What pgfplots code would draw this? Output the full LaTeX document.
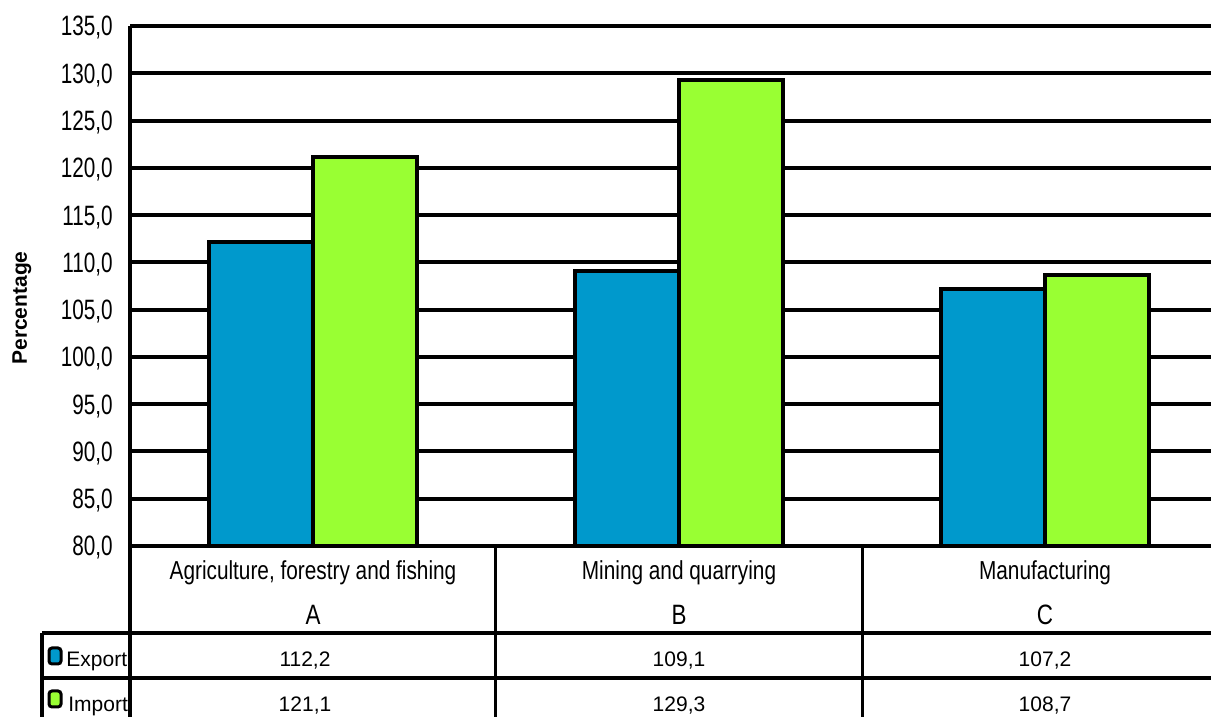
\documentclass[border=0pt]{standalone}
\usepackage{fontspec}
\setmainfont{Liberation Sans}
\newfontfamily\narrow{Liberation Sans}[FakeStretch=0.74]
\newfontfamily\catfont{Liberation Sans}[FakeStretch=0.8]
\usepackage{pgfplots}
\pgfplotsset{compat=1.18}
\definecolor{expblue}{HTML}{0099CC}
\definecolor{impgreen}{HTML}{99FF33}
\begin{document}
\begin{tikzpicture}[x=0.5pt,y=0.5pt]
\useasboundingbox (0,0) rectangle (1211,717);
\begin{axis}[
  at={(65pt,85.5pt)}, anchor=south west,
  scale only axis, width=540.5pt, height=260pt,
  xmin=-0.5, xmax=2.4536, ymin=80, ymax=135,
  ybar=0pt, bar width=52pt,
  xtick=\empty, ytick={80,85,...,135},
  axis lines=left,
  axis line style={-, line width=2pt, black},
  major tick length=0pt,
  ymajorgrids, major grid style={line width=2pt, black},
  /pgf/number format/assume math mode=true,
  yticklabel style={font=\narrow\fontsize{14}{16}\selectfont, inner sep=0pt, xshift=-8.5pt, yshift=-1pt,
    /pgf/number format/.cd, fixed, fixed zerofill, precision=1, use comma},
]
\addplot[fill=expblue, draw=black, line width=2pt] coordinates {(0,112.2) (1,109.1) (2,107.2)};
\addplot[fill=impgreen, draw=black, line width=2pt] coordinates {(0,121.1) (1,129.3) (2,108.7)};
\end{axis}
% table lines
\draw[line width=2pt] (130,171) -- (130,0);
\draw[line width=1.5pt] (495,171) -- (495,0);
\draw[line width=1.5pt] (862,171) -- (862,0);
\draw[line width=1.6pt] (42,84) -- (42,0);
\draw[line width=2pt] (42,84) -- (1211,84);
\draw[line width=2pt] (42,39) -- (1211,39);
% category labels
\begin{scope}[every node/.style={font=\catfont\fontsize{13}{15}\selectfont, anchor=base, inner sep=0pt}]
\node at (313,137) {Agriculture, forestry and fishing};
\node at (679,137) {Mining and quarrying};
\node at (1045,137) {Manufacturing};
\node[font=\catfont\fontsize{14}{16}\selectfont] at (313,92) {A};
\node[font=\catfont\fontsize{14}{16}\selectfont] at (679,92) {B};
\node[font=\catfont\fontsize{14}{16}\selectfont] at (1045,92) {C};
\end{scope}
% values
\begin{scope}[every node/.style={font=\fontsize{10.5}{12}\selectfont, anchor=base, inner sep=0pt}]
\node at (305,50) {112,2};
\node at (679,50) {109,1};
\node at (1045,50) {107,2};
\node at (305,5) {121,1};
\node at (679,5) {129,3};
\node at (1045,5) {108,7};
\node[anchor=base west] at (66,50) {Export};
\node[anchor=base west] at (68,5) {Import};
\end{scope}
\draw[line width=1.5pt, fill=expblue, rounded corners=1.5pt] (49,53) rectangle (61,69);
\draw[line width=1.5pt, fill=impgreen, rounded corners=1.5pt] (49,10) rectangle (61,26);
\node[rotate=90, font=\bfseries\fontsize{10.5}{12}\selectfont] at (22,409) {Percentage};
\end{tikzpicture}
\end{document}
